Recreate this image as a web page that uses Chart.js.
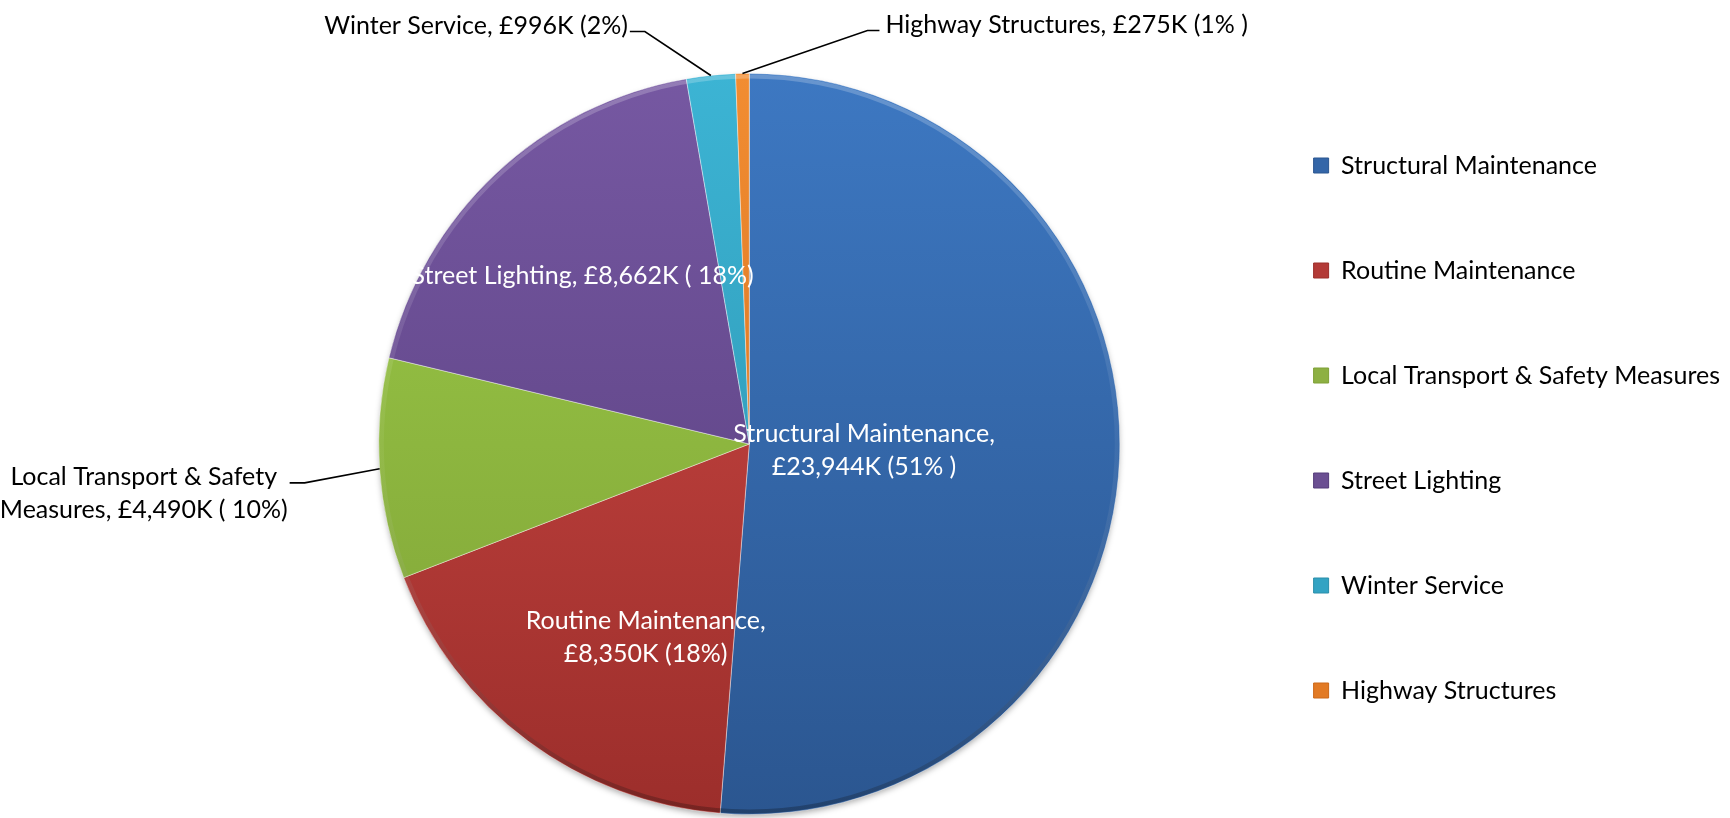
<!DOCTYPE html>
<html lang="en">
<head>
    <meta charset="UTF-8">
    <title>Highways budget</title>
    <script src="https://cdn.jsdelivr.net/npm/chart.js"></script>
    <style>
      body { margin: 0; background: #fff; }
      .container { width: 1730px; height: 818px; position: relative; }
    </style>
</head>
<body>

  <div class="container">
    <canvas id="chart0"></canvas>
  </div>

  <script>

    /* Data. */
    const categories = [
      "Structural Maintenance",
      "Routine Maintenance",
      "Local Transport & Safety Measures",
      "Street Lighting",
      "Winter Service",
      "Highway Structures"
    ]
    const spendK = [23944, 8350, 4490, 8662, 996, 275]
    const sliceLabels = [
      ["Structural Maintenance,", "£23,944K (51% )"],
      ["Routine Maintenance,", "£8,350K (18%)"],
      ["Local Transport & Safety", "Measures, £4,490K ( 10%)"],
      ["Street Lighting, £8,662K ( 18%)"],
      ["Winter Service, £996K (2%)"],
      ["Highway Structures, £275K (1% )"]
    ]

    /* Colours (top of pie -> bottom of pie). */
    const topColors = ["#3d78c2", "#d04a46", "#9ccc48", "#7658a2", "#3cb4d4", "#f28d32"]
    const bottomColors = ["#2b5690", "#9c2e2b", "#7ea036", "#553c7a", "#2a8eaa", "#cc6818"]
    const legendColors = ["#3466a8", "#b33a37", "#8db043", "#6b4f92", "#33a3c3", "#e27a24"]

    /* Where each label sits, relative to its slice. */
    const labelPlacement = [
      { inside: true, dist: 0.31, dx: 0, dy: 2 },
      { inside: true, dist: 0.5, dx: 7, dy: 45 },
      { inside: false, elbow: [-75, 14], tail: -15 },
      { inside: true, dist: 0.65, dx: -2, dy: 8 },
      { inside: false, elbow: [-66, -44], tail: -15 },
      { inside: false, elbow: [125, -43], tail: 12 }
    ]

    const fontFamily = "Lato, 'Liberation Sans', sans-serif"
    const fontSize = 25
    const lineGap = 33

    /* Slice gradient. */
    const sliceFill = (context) => {
      const i = context.dataIndex
      const area = context.chart.chartArea
      if (!area) return legendColors[i]
      const g = context.chart.ctx.createLinearGradient(0, area.top, 0, area.bottom)
      g.addColorStop(0, topColors[i])
      g.addColorStop(1, bottomColors[i])
      return g
    }

    /* Soft shadow under the pie and a bevel rim on top of it. */
    const bevelPlugin = {
      id: "bevel",
      beforeDatasetsDraw(chart) {
        const arc = chart.getDatasetMeta(0).data[0]
        if (!arc) return
        const p = arc.getProps(["x", "y", "outerRadius"], true)
        const ctx = chart.ctx
        ctx.save()
        ctx.shadowColor = "rgba(0, 0, 0, 0.35)"
        ctx.shadowBlur = 6
        ctx.shadowOffsetY = 3
        ctx.fillStyle = "#ffffff"
        ctx.beginPath()
        ctx.arc(p.x, p.y, p.outerRadius - 1, 0, Math.PI * 2)
        ctx.fill()
        ctx.restore()
      },
      afterDatasetsDraw(chart) {
        const arc = chart.getDatasetMeta(0).data[0]
        if (!arc) return
        const p = arc.getProps(["x", "y", "outerRadius"], true)
        const ctx = chart.ctx
        ctx.save()
        const g = ctx.createLinearGradient(0, p.y - p.outerRadius, 0, p.y + p.outerRadius)
        g.addColorStop(0, "rgba(255, 255, 255, 0.22)")
        g.addColorStop(0.5, "rgba(255, 255, 255, 0.05)")
        g.addColorStop(1, "rgba(0, 0, 0, 0.25)")
        ctx.strokeStyle = g
        ctx.lineWidth = 4
        ctx.beginPath()
        ctx.arc(p.x, p.y, p.outerRadius - 3, 0, Math.PI * 2)
        ctx.stroke()
        ctx.restore()
      }
    }

    /* Draw data labels and leader lines. */
    const sliceLabelPlugin = {
      id: "sliceLabels",
      afterDatasetsDraw(chart) {
        const ctx = chart.ctx
        const arcs = chart.getDatasetMeta(0).data
        ctx.save()
        ctx.font = fontSize + "px " + fontFamily
        ctx.textBaseline = "middle"
        arcs.forEach((arc, i) => {
          const p = arc.getProps(["x", "y", "startAngle", "endAngle", "outerRadius"], true)
          const mid = (p.startAngle + p.endAngle) / 2
          const place = labelPlacement[i]
          const lines = sliceLabels[i]
          if (place.inside) {
            const d = p.outerRadius * place.dist
            const cx = p.x + Math.cos(mid) * d + place.dx
            const cy = p.y + Math.sin(mid) * d + place.dy
            ctx.fillStyle = "#ffffff"
            ctx.textAlign = "center"
            const top = cy - (lines.length - 1) * lineGap / 2
            lines.forEach((t, k) => ctx.fillText(t, cx, top + k * lineGap))
          } else {
            const ax = p.x + Math.cos(mid) * p.outerRadius
            const ay = p.y + Math.sin(mid) * p.outerRadius
            const ex = ax + place.elbow[0]
            const ey = ay + place.elbow[1]
            const tx = ex + place.tail
            ctx.strokeStyle = "#000000"
            ctx.lineWidth = 1.6
            ctx.beginPath()
            ctx.moveTo(ax, ay)
            ctx.lineTo(ex, ey)
            ctx.lineTo(tx, ey)
            ctx.stroke()
            ctx.fillStyle = "#000000"
            const firstY = ey - 6
            if (place.tail < 0) {
              const w = Math.max(...lines.map(t => ctx.measureText(t).width))
              const right = tx - 2
              if (lines.length > 1) {
                ctx.textAlign = "center"
                lines.forEach((t, k) => ctx.fillText(t, right - w / 2, firstY + k * lineGap))
              } else {
                ctx.textAlign = "right"
                ctx.fillText(lines[0], right, firstY)
              }
            } else {
              ctx.textAlign = "left"
              lines.forEach((t, k) => ctx.fillText(t, tx + 6, firstY + k * lineGap))
            }
          }
        })
        ctx.restore()
      }
    }

    const ctx0 = document.getElementById("chart0").getContext("2d")
    const myChart0 = new Chart(ctx0, {
      type: "pie",
      data: {
        labels: categories,
        datasets: [{
          data: spendK,
          backgroundColor: sliceFill,
          borderColor: "rgba(255, 255, 255, 0.4)",
          borderWidth: 1
        }]
      },
      options: {
        responsive: true,
        maintainAspectRatio: false,
        animation: false,
        layout: {
          padding: { left: 265, right: 0, top: 73, bottom: 3 }
        },
        plugins: {
          tooltip: { enabled: false },
          legend: {
            position: "right",
            align: "start",
            labels: {
              boxWidth: 15,
              boxHeight: 15,
              padding: 80,
              color: "#000000",
              font: { family: fontFamily, size: fontSize },
              generateLabels: (chart) => chart.data.labels.map((text, i) => ({
                text: text,
                fillStyle: legendColors[i],
                strokeStyle: bottomColors[i],
                lineWidth: 1,
                hidden: false,
                index: i
              }))
            }
          }
        }
      },
      plugins: [bevelPlugin, sliceLabelPlugin]
    })

  </script>

</body>
</html>
